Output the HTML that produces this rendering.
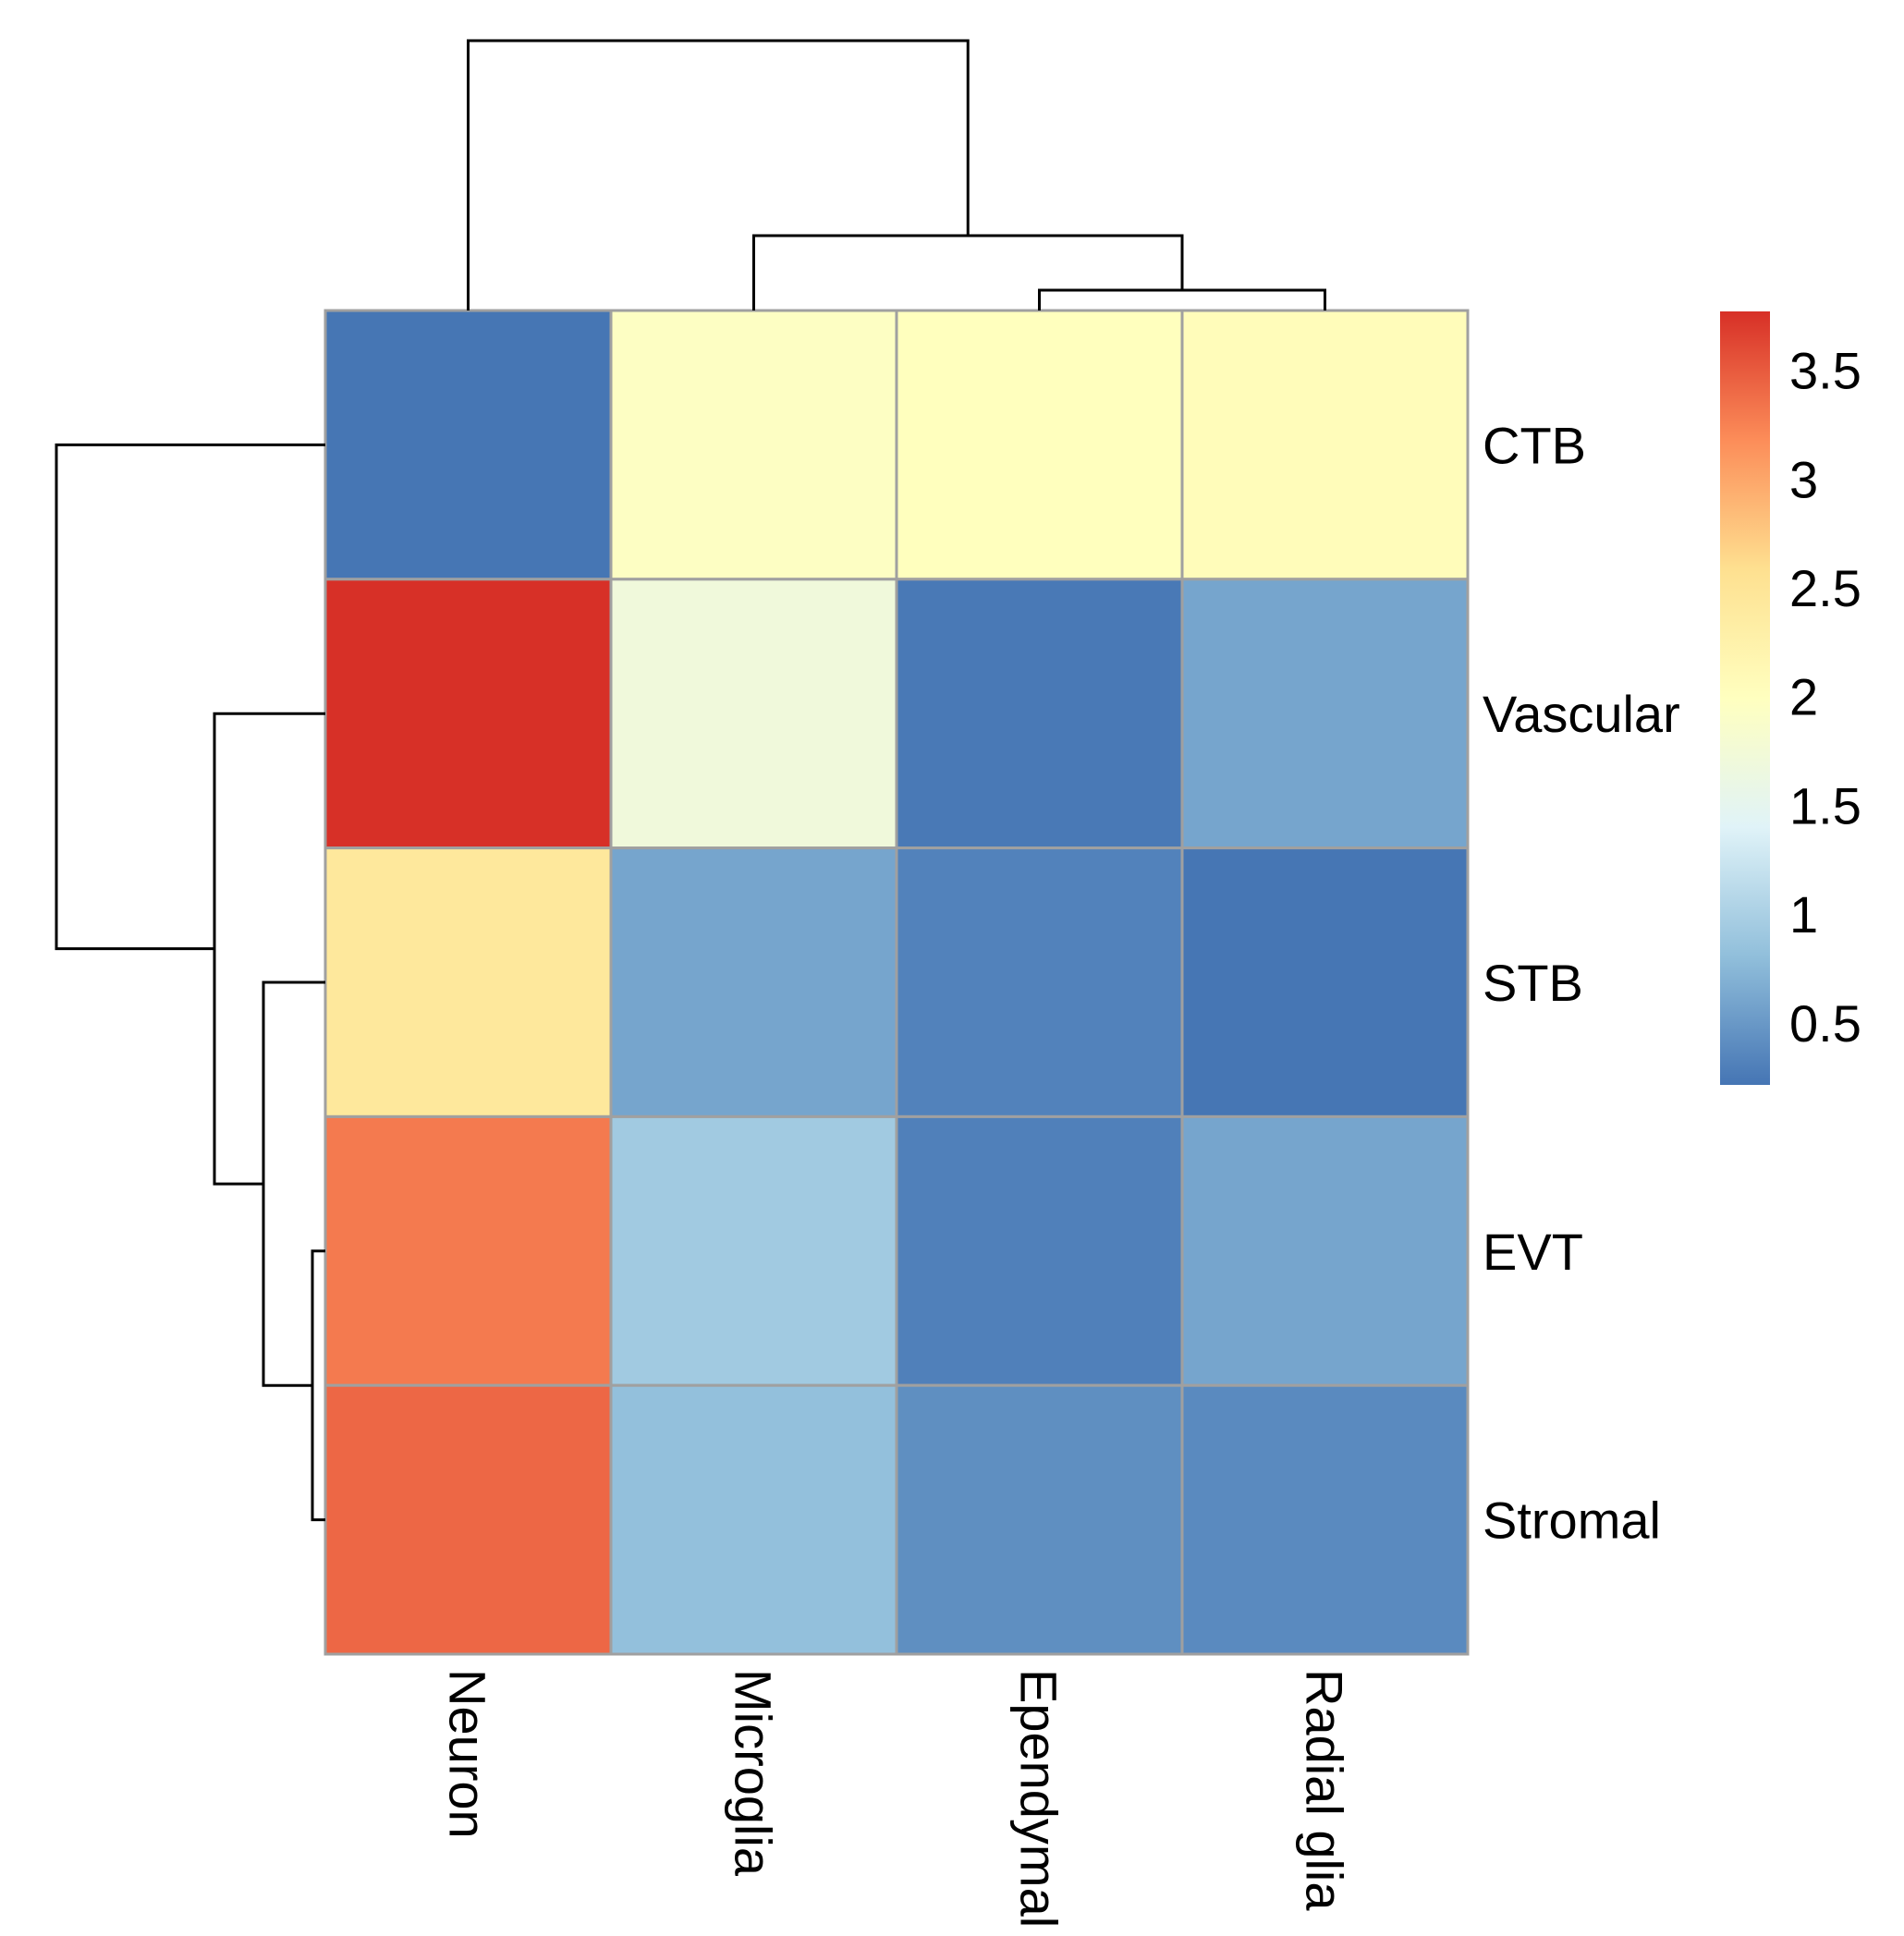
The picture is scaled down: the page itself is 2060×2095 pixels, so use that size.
<!DOCTYPE html>
<html><head><meta charset="utf-8"><style>
html,body{margin:0;padding:0;background:#fff;}
svg{display:block;font-family:"Liberation Sans",Arial,sans-serif;}
</style></head><body>
<svg id="chart" width="2060" height="2095" viewBox="0 0 2060 2095">
<defs><linearGradient id="cbgrad" x1="0" y1="1" x2="0" y2="0"></linearGradient></defs>
<g id="cells"></g>
<g id="dendro" stroke="#000" stroke-width="3" fill="none"></g>
<g id="labels"></g>
<g id="legend"></g>
</svg>
<script>
const rowLabels = ["CTB","Vascular","STB","EVT","Stromal"];
const colLabels = ["Neuron","Microglia","Ependymal","Radial glia"];
const rowCTB = [0.22, 1.95, 2.0, 2.05];
const rowVascular = [3.77, 1.70, 0.25, 0.60];
const rowSTB = [2.43, 0.60, 0.32, 0.22];
const rowEVT = [3.30, 0.93, 0.30, 0.60];
const rowStromal = [3.42, 0.82, 0.42, 0.38];
const values = [rowCTB,rowVascular,rowSTB,rowEVT,rowStromal];
const legendTicks = [0.5,1,1.5,2,2.5,3,3.5];
const legendTickLabels = ["0.5","1","1.5","2","2.5","3","3.5"];
const vmin = 0.215, vmax = 3.77;
const palette = ["#4575B4","#91BFDB","#E0F3F8","#FFFFBF","#FEE090","#FC8D59","#D73027"];

const NS="http://www.w3.org/2000/svg";
const X0=352, X1=1588, Y0=336, Y1=1790;
const cw=(X1-X0)/colLabels.length, rh=(Y1-Y0)/rowLabels.length;
const xCol=i=>X0+i*cw, yRow=j=>Y0+j*rh;
const CBY0=337, CBY1=1174, CBX=1861, CBW=54;
const yLegend=v=>CBY1-(v-vmin)/(vmax-vmin)*(CBY1-CBY0);

function hex2rgb(h){return [1,3,5].map(i=>parseInt(h.substr(i,2),16));}
function color(v){
  let t=(v-vmin)/(vmax-vmin); t=Math.max(0,Math.min(1,t));
  const s=t*(palette.length-1); const i=Math.min(Math.floor(s),palette.length-2); const f=s-i;
  const a=hex2rgb(palette[i]), b=hex2rgb(palette[i+1]);
  return "rgb("+a.map((c,k)=>Math.round(c+(b[k]-c)*f)).join(",")+")";
}
function mk(tag,attrs,parent){const e=document.createElementNS(NS,tag);for(const k in attrs)e.setAttribute(k,attrs[k]);parent.appendChild(e);return e;}

const cells=document.getElementById('cells');
values.forEach((row,j)=>row.forEach((v,i)=>{
  const r=mk('rect',{x:xCol(i),y:yRow(j),width:cw,height:rh,fill:color(v),stroke:"#a0a0a0","stroke-width":3},cells);
  
  
}));

const dendro=document.getElementById('dendro');
const cx=i=>xCol(i)+cw/2, cy=j=>yRow(j)+rh/2;
const topPaths=[
  `M${cx(2)},${Y0} V314 H${cx(3)} V${Y0}`,
  `M${cx(1)},${Y0} V255 H${(cx(2)+cx(3))/2} V314`,
  `M${cx(0)},${Y0} V44 H${(cx(1)+(cx(2)+cx(3))/2)/2} V255`
];
const e2=(cy(3)+cy(4))/2, e3=(cy(2)+e2)/2;
const leftPaths=[
  `M${X0},${cy(3)} H338 V${cy(4)} H${X0}`,
  `M${X0},${cy(2)} H285 V${e2} H338`,
  `M${X0},${cy(1)} H232 V${e3} H285`,
  `M${X0},${cy(0)} H61 V${(cy(1)+e3)/2} H232`
];
topPaths.forEach((d,k)=>{const p=mk('path',{d:d},dendro);});
leftPaths.forEach((d,k)=>{const p=mk('path',{d:d},dendro);});

const labels=document.getElementById('labels');
rowLabels.forEach((l,j)=>{
  const t=mk('text',{x:1604,y:cy(j)+20,"font-size":56,fill:"#000"},labels);t.textContent=l;
  
  
});
colLabels.forEach((l,i)=>{
  const t=mk('text',{x:0,y:0,"font-size":56,fill:"#000",transform:`translate(${cx(i)-20},1806) rotate(90)`},labels);t.textContent=l;
  
  
});

const grad=document.getElementById('cbgrad');
palette.forEach((c,k)=>mk('stop',{offset:(k/(palette.length-1)),"stop-color":c},grad));
const legend=document.getElementById('legend');
const bar=mk('rect',{x:CBX,y:CBY0,width:CBW,height:CBY1-CBY0,fill:"url(#cbgrad)"},legend);


legendTicks.forEach((v,k)=>{
  const t=mk('text',{x:1936,y:yLegend(v)+20,"font-size":56,fill:"#000"},legend);t.textContent=legendTickLabels[k];
  
  
});
</script>
</body></html>
